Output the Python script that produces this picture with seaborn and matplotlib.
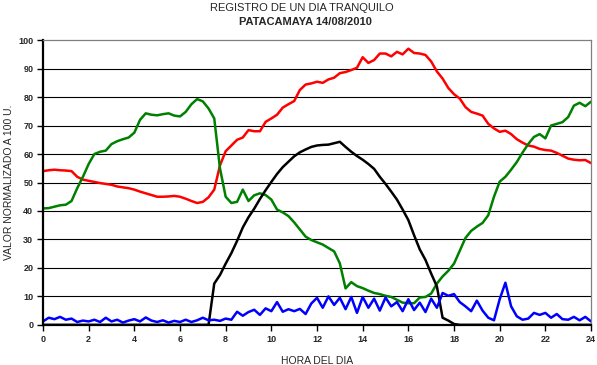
import numpy as np
import pandas as pd
import matplotlib
matplotlib.use("Agg")
import matplotlib.pyplot as plt
import seaborn as sns

# hora del dia, cada 15 minutos
horas = np.arange(0, 24.01, 0.25)

rojo = [54.0, 54.3, 54.5, 54.3, 54.2, 54.0, 52.0, 51.0, 50.6, 50.2, 49.8, 49.5,
        49.2, 48.6, 48.3, 48.0, 47.5, 46.8, 46.2, 45.6, 45.0, 45.0, 45.1, 45.3,
        45.0, 44.3, 43.5, 42.8, 43.2, 44.8, 47.5, 56.0, 61.0, 63.0, 65.0, 65.8,
        68.4, 68.0, 68.0, 71.3, 72.5, 73.8, 76.3, 77.5, 78.6, 82.5, 84.4, 84.8,
        85.4, 85.0, 86.2, 86.8, 88.4, 88.8, 89.5, 90.3, 94.0, 92.0, 93.0, 95.3,
        95.3, 94.3, 95.9, 95.0, 97.0, 95.5, 95.3, 94.8, 92.5, 89.0, 86.5, 83.2,
        81.0, 79.5, 76.5, 74.8, 74.2, 73.5, 70.6, 69.0, 67.8, 68.2, 67.0, 65.2,
        64.0, 63.0, 62.6, 61.8, 61.4, 61.2, 60.4, 59.4, 58.4, 58.0, 57.8, 57.9,
        56.8]

verde = [40.9, 41.0, 41.5, 42.0, 42.2, 43.5, 48.0, 52.0, 56.5, 60.0, 60.8, 61.2,
         63.5, 64.5, 65.2, 65.8, 67.5, 72.0, 74.3, 73.8, 73.6, 74.0, 74.3, 73.5,
         73.2, 74.8, 77.5, 79.3, 78.5, 76.0, 72.5, 55.0, 45.0, 42.8, 43.2, 47.5,
         43.5, 45.5, 46.2, 45.6, 44.0, 40.5, 39.5, 38.2, 36.0, 33.5, 31.0, 29.8,
         29.0, 28.2, 27.0, 25.8, 21.6, 12.8, 15.0, 13.6, 12.9, 12.0, 11.2, 10.8,
         10.2, 9.8, 8.8, 7.8, 7.6, 7.6, 9.6, 9.8, 11.0, 14.5, 17.0, 19.0,
         21.5, 26.0, 30.5, 33.0, 34.5, 35.8, 38.5, 45.0, 50.3, 52.0, 54.5, 57.2,
         60.5, 63.5, 66.0, 67.0, 65.5, 70.0, 70.6, 71.2, 73.0, 77.0, 78.0, 76.8,
         78.4]

negro = [0.0] * 30 + [
    14.5, 17.5, 21.5, 25.2, 29.5, 34.2, 37.8, 40.8, 44.2, 47.3, 50.2, 53.0,
    55.4, 57.3, 59.2, 60.6, 61.6, 62.5, 63.0, 63.2, 63.3, 63.8, 64.3, 62.5,
    60.8, 59.3, 58.0, 56.5, 54.8, 52.0, 49.5, 46.8, 44.0, 40.5, 36.8, 31.5,
    26.5, 22.8, 18.0, 13.5, 2.5, 1.5, 0.3] + [0.0] * 24

azul = [1.2, 2.5, 2.0, 2.8, 1.8, 2.2, 1.0, 1.5, 1.2, 1.8, 1.0, 2.5,
        1.2, 1.8, 0.8, 1.5, 2.0, 1.2, 2.6, 1.5, 1.0, 1.6, 0.8, 1.4,
        1.0, 1.8, 1.0, 1.6, 2.5, 1.6, 1.8, 1.4, 2.2, 1.8, 4.6, 3.2,
        4.5, 5.3, 3.5, 5.8, 4.8, 8.0, 4.6, 5.5, 4.8, 5.6, 3.8, 7.5,
        9.5, 6.0, 10.0, 7.0, 9.5, 5.5, 9.8, 4.2, 9.8, 6.0, 9.2, 5.0,
        9.6, 6.5, 8.0, 4.8, 9.0, 5.2, 7.8, 4.5, 9.2, 6.0, 11.2, 10.2,
        10.8, 8.0, 6.5, 4.8, 8.5, 5.0, 2.5, 1.6, 9.0, 14.8, 6.5, 3.0,
        1.8, 2.2, 4.2, 3.5, 4.2, 2.5, 3.8, 2.0, 1.8, 2.8, 1.6, 2.8,
        1.2]

series = {"rojo": rojo, "verde": verde, "negro": negro, "azul": azul}
colores = {"rojo": "#ff0000", "verde": "#008000", "negro": "#000000", "azul": "#0000ff"}

df = pd.concat(
    [pd.DataFrame({"hora": horas, "valor": v, "serie": k}) for k, v in series.items()],
    ignore_index=True)

sns.set_style("white")
plt.rcParams["font.family"] = ["Liberation Sans", "DejaVu Sans"]

fig = plt.figure(figsize=(5.97, 3.65), dpi=100)
ax = fig.add_axes([0.072, 0.11, 0.918, 0.78])

sns.lineplot(data=df, x="hora", y="valor", hue="serie", hue_order=list(series),
             palette=colores, linewidth=1.8, legend=False, ax=ax)

ax.set_xlim(0, 24)
ax.set_ylim(0, 100)
ax.set_xticks(range(0, 25, 2))
ax.set_yticks(range(0, 101, 10))
for y in range(10, 100, 10):
    ax.axhline(y, color="black", linewidth=0.8, zorder=0)

for lbl in ax.get_xticklabels() + ax.get_yticklabels():
    lbl.set_fontsize(6.5)
    lbl.set_fontweight("bold")
ax.tick_params(axis="both", direction="out", length=4, width=1, color="black", pad=3,
               bottom=True, left=True)

ax.spines["left"].set_color("black")
ax.spines["left"].set_linewidth(1.6)
ax.spines["bottom"].set_color("black")
ax.spines["bottom"].set_linewidth(1.6)
ax.spines["top"].set_color("#808080")
ax.spines["top"].set_linewidth(0.9)
ax.spines["right"].set_color("#808080")
ax.spines["right"].set_linewidth(0.9)

ax.set_xlabel("HORA DEL DIA", fontsize=7.5, labelpad=9)
ax.set_ylabel("VALOR NORMALIZADO A 100 U.", fontsize=7.5)
ax.yaxis.set_label_coords(-0.052, 0.5)

fig.text(0.506, 0.993, "REGISTRO DE UN DIA TRANQUILO", ha="center", va="top", fontsize=8)
fig.text(0.512, 0.953, "PATACAMAYA 14/08/2010", ha="center", va="top", fontsize=8,
         fontweight="bold")

fig.savefig("out.png", dpi=100)
